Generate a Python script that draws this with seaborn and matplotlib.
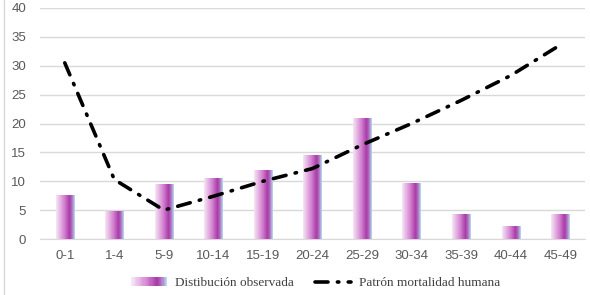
import numpy as np
import pandas as pd
import matplotlib
matplotlib.use("Agg")
import matplotlib.pyplot as plt
import seaborn as sns
from matplotlib.colors import LinearSegmentedColormap
from matplotlib.lines import Line2D
from matplotlib.patches import Rectangle
from matplotlib.legend_handler import HandlerBase

categories = ["0-1", "1-4", "5-9", "10-14", "15-19", "20-24", "25-29", "30-34", "35-39", "40-44", "45-49"]
observed = [7.6, 4.8, 9.5, 10.5, 11.9, 14.4, 20.9, 9.6, 4.3, 2.1, 4.3]
pattern = [30.5, 10.3, 5.0, 7.4, 10.0, 12.2, 16.3, 20.0, 24.0, 28.3, 33.6]

grad = LinearSegmentedColormap.from_list(
    "bar", [(0.0, "#f6e6f5"), (0.45, "#d27fd0"), (0.72, "#a93aa6"), (0.85, "#b070c0"), (1.0, "#b6dcf2")])
dash = (0, (3.6, 2.6, 0.4, 2.6))


class GradHandler(HandlerBase):
    def create_artists(self, legend, orig, xd, yd, w, h, fs, trans):
        n = 30
        arts = []
        for i in range(n):
            r = Rectangle((xd + w * i / n, yd), w / n + 0.2, h, color=grad(i / (n - 1)),
                          transform=trans, lw=0)
            arts.append(r)
        return arts


sns.set_style("white")
plt.rcParams["font.family"] = ["Liberation Sans", "DejaVu Sans"]
fig = plt.figure(figsize=(5.9, 2.95), dpi=100)
ax = fig.add_axes([40 / 590, 56 / 295, 545 / 590, 231 / 295])

df = pd.DataFrame({"cat": categories, "obs": observed})
sns.barplot(data=df, x="cat", y="obs", color="#b040b0", width=0.37, errorbar=None, ax=ax, zorder=2)

# gradient fill on each bar
img = np.linspace(0, 1, 64).reshape(1, -1)
for p in ax.patches:
    x0, w, h = p.get_x(), p.get_width(), p.get_height()
    ax.imshow(img, cmap=grad, aspect="auto", extent=[x0, x0 + w, 0, h], zorder=3)
    p.set_visible(False)

sns.lineplot(x=np.arange(len(categories)), y=pattern, color="black", lw=2.6,
             linestyle=dash, ax=ax, zorder=4)
ax.lines[-1].set_dash_capstyle("round")

ax.set_xlim(-0.5, len(categories) - 0.5)
ax.set_ylim(0, 40)
ax.set_yticks(range(0, 41, 5))
ax.yaxis.grid(True, color="#d9d9d9", lw=1)
ax.set_axisbelow(True)
for s in ["top", "right", "left"]:
    ax.spines[s].set_visible(False)
ax.spines["bottom"].set_color("#d9d9d9")
ax.set_xlabel("")
ax.set_ylabel("")
ax.tick_params(axis="both", length=0, labelsize=9.5, labelcolor="#595959", pad=8)
ax.tick_params(axis="y", pad=10)

handles = [Rectangle((0, 0), 1, 1),
           Line2D([0], [0], color="black", lw=2.6, linestyle=dash, dash_capstyle="round")]
leg = fig.legend(handles, ["Distibución observada", "Patrón mortalidad humana"],
                 loc="center", bbox_to_anchor=(0.535, 0.04), ncol=2, frameon=False,
                 handler_map={Rectangle: GradHandler()}, handlelength=2.7, handletextpad=0.6,
                 columnspacing=1.6, prop={"family": "Liberation Serif", "size": 9.5})
for t in leg.get_texts():
    t.set_color("#404040")

fig.add_artist(Line2D([0.006, 0.006], [0, 1], color="#d9d9d9", lw=1, transform=fig.transFigure))

fig.savefig("out.png", dpi=100)
